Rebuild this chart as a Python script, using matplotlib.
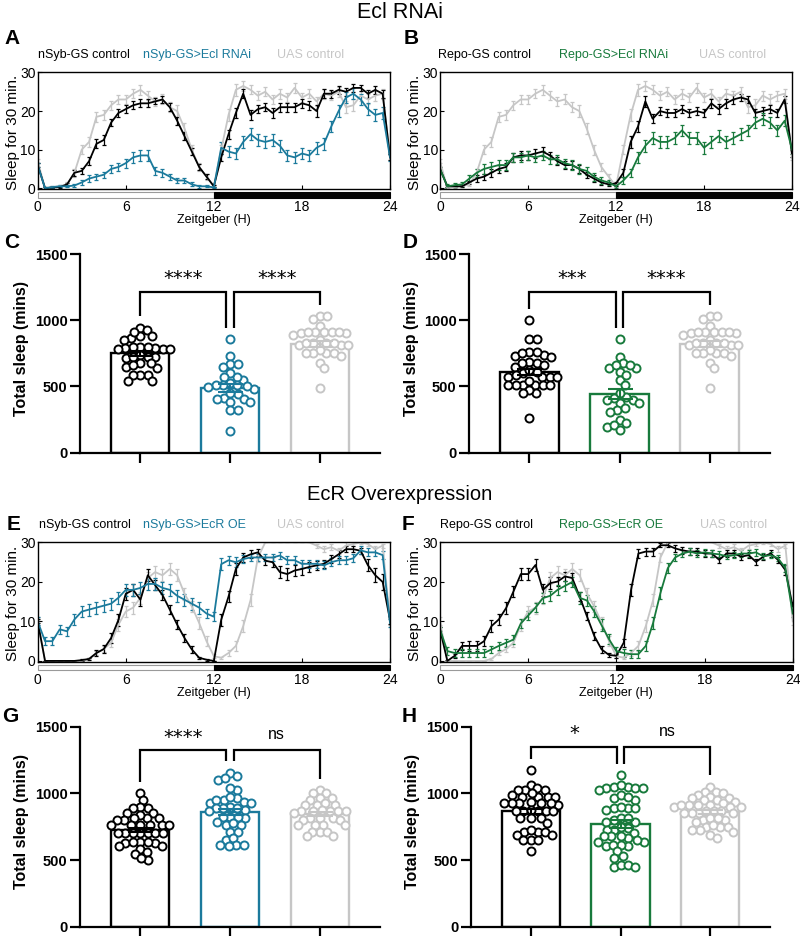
import numpy as np
import matplotlib
matplotlib.use('Agg')
import matplotlib.pyplot as plt
from matplotlib.patches import Rectangle
import matplotlib.transforms as mtransforms

plt.rcParams['font.family'] = ['Liberation Sans', 'DejaVu Sans']

# ---------------- colours ----------------
BLACK = '#000000'
BLUE = '#1b7a9c'
GREEN = '#187a3c'
GREY = '#c6c6c6'

# ---------------- line-plot data (30-min bins, ZT0..ZT24) ----------------
hours = np.arange(0, 24.01, 0.5)

uas_rnai = [7,0,0.3,0.5,1,4,10,12,18.5,19,21.5,23,23,24.5,25.5,24,22.5,23,21,20,15.5,10,5.5,3,0.5,
            10,19,25.5,26.5,25.5,24,25,23,24.5,23.5,26,23.5,24.5,22.5,24.5,24,25,21,21.5,24,23,24,24.5,8]
uas_rnai_err = [0.5,0.2,0.3,0.3,0.5,1,1.2,1.2,1.3,1.3,1.2,1.2,1.2,1.2,1.3,1.2,1.2,1.3,1.3,1.5,1.5,1.3,1,0.8,0.3,
                1.2,1.5,1.5,1.2,1.2,1.2,1.2,1.2,1.3,1.2,1.2,1.2,1.2,1.2,1.3,1.2,1.3,1.5,1.5,1.3,1.3,1.3,1.3,0.8]

a_ctrl = [6,0,0.2,0.3,1,4,4.5,7,11.5,12.5,17,19.5,20.5,21.5,22,22,22.5,23,21,17.5,13.5,9.5,5.5,3,0.5,
          8,14,19.5,24.5,19,20.5,21,19.5,21,21,21,22,21.5,20,24.5,24.5,25.5,25,26,26,24.5,25.5,24.5,8]
a_ctrl_err = [0.5,0.2,0.2,0.2,0.3,0.8,0.8,1,1.2,1.2,1,1,1,1,1,1,0.8,0.8,1,1,1,1,0.8,0.6,0.3,
              1,1.2,1.2,1.2,1.2,1,1,1.2,1.2,1.2,1.2,1.2,1.2,1.5,1.2,1,1,1,1,0.8,1,1,1,0.8]
a_rnai = [6,0,0.3,0.5,0.5,0.7,1.5,2.5,3,3.5,5,5.5,6.5,8,8.5,8.5,4.5,4,3,2,2,1,0.5,0.5,0.2,
          10.5,9.5,9,12,14,12.5,12,12.5,11,8.5,8,9,8.5,10.5,11.5,16,20,23.5,24.5,23,20.5,19,19.5,8]
a_rnai_err = [0.5,0.2,0.3,0.3,0.3,0.4,0.6,0.8,0.8,0.8,1,1,1.2,1.5,1.5,1.5,1,1,0.8,0.7,0.6,0.5,0.4,0.3,0.2,
              1.5,1.5,1.5,1.5,1.5,1.5,1.5,1.5,1.5,1.5,1.5,1.5,1.5,1.5,1.5,1.5,1.5,1.5,1.5,1.5,1.5,1.5,1.5,1]

b_ctrl = [5,0.5,0.5,0.5,1.5,2.5,3,4,5,5.5,8,8.5,8.5,9,9.5,8.5,7,6,6,5,3.5,2.5,1.5,1,1.2,
          4,12,16,22.5,18,20,19.5,19.5,20.5,19.5,20,19.5,22,20.5,22,23,23.5,23,19.5,20,20.5,19.5,23,9]
b_ctrl_err = [0.5,0.3,0.3,0.3,0.5,0.8,0.8,1,1,1,1.2,1.2,1.2,1.2,1.2,1,1,1,1,1,0.8,0.8,0.6,0.5,0.5,
              1,1.5,1.5,1.5,1.2,1,1,1,1,1,1,1,1.2,1.2,1.2,1.2,1,1,1,1,1,1,1,1]
b_rnai = [5,0.5,0.8,1,2.5,4,5,5.5,6,6,8,8,8.5,8,8.5,7.5,7.5,6.5,6,5,4.5,3,2,1.5,0.5,
          2,4,8,11,13,12,12,13,15,13,13,10.5,12,13.5,12,13,14,15,17,18,17,15,17.5,10]
b_rnai_err = [0.5,0.5,0.5,0.5,1,1,1.2,1.2,1.2,1.2,1.2,1.2,1.2,1.2,1.2,1.2,1.2,1.2,1.2,1.2,1,1,0.8,0.6,0.5,
              0.8,1,1.5,1.5,1.5,1.5,1.5,1.5,1.5,1.5,1.5,1.5,1.5,1.5,1.5,1.5,1.5,1.5,1.5,1.5,1.5,1.5,1.5,1]

uas_oe = [10,0,0,0,0,0,0,0.5,2,3,4.6,9.2,12.5,13.5,16,21,22.5,21.7,23.3,21.7,17,13.8,9.6,5,1.2,
          0.8,2,3.8,8.8,15.4,26.2,30,30,30,30,30,30,30,29.2,28.3,28.8,27.9,29.2,29.6,30,29.6,28.3,29.2,10]
uas_oe_err = [1,0,0,0,0,0,0,0.2,0.5,0.8,1,1.5,1.5,1.5,1.5,1.5,1.5,1.5,1.5,1.5,1.5,1.5,1.5,1.2,0.5,
              0.3,0.8,1.2,1.5,1.5,1.2,0,0,0,0,0,0,0,0.5,0.8,0.8,0.8,0.8,0.5,0.3,0.5,0.8,0.5,1]

e_ctrl = [10,0,0,0,0,0,0.2,0.5,2,3,5.8,10.4,17,18,15.5,21.7,19.2,16.7,13,9.2,5.8,2.9,0.8,0.3,0,
          10.4,16.3,23.3,26.2,27,27.5,25.4,25,22.5,22,22.9,23.3,23.8,24.2,24.6,25.8,27,28.3,28.3,27.9,24.2,21.7,20,10.4]
e_ctrl_err = [0.5,0,0,0,0,0,0.2,0.3,0.8,1,1.2,1.5,1.5,1.5,1.5,1.5,1.2,1.2,1.2,1.2,1,0.8,0.3,0.2,0,
              1.5,1.5,1.5,1.2,1,0.8,1,1.2,1.5,1.5,1.5,1.5,1.2,1.2,1,1,1,0.8,0.8,0.8,1.5,1.8,2,1]
e_oe = [10,5,5,8,7.5,10.5,12.5,13,13.5,14,14.5,16,18,18,18.5,19.5,19.5,18.5,18,16.5,15.5,14.5,13.5,12,11.2,
        24.5,25.5,25,25.8,26.2,26.2,26.2,26.2,26.7,25.5,25.5,24.6,24.6,24.6,24.2,25,25.5,25.5,26,28,27.5,27.5,26.8,9.6]
e_oe_err = [1,1,1,1.2,1.2,1.5,1.5,1.5,1.5,1.5,1.5,1.5,1.5,1.5,1.5,1.5,1.5,1.5,1.5,1.5,1.5,1.5,1.5,1.2,1.2,
            1.5,1.2,1.2,1,1,1,1,1,1,1,1,1,1,1,1,1,1,1,1,1,1,1,1,1]

f_ctrl = [8,0,1.3,3.8,3.8,3.8,5,8.8,10.5,13.4,17.6,22,22,24.3,18,19.7,20.1,21.4,21,16.3,11.3,6.3,2.9,1.5,1.3,
          4.6,18,27.2,27.7,27.7,29.3,29.3,28.5,28,27.7,27.7,27.2,27.2,25.6,27.2,27.2,26.4,26.8,25.1,26.4,27.2,25.6,23,13.8]
f_ctrl_err = [0.5,0.2,0.5,1,1.2,1.2,1.2,1.5,1.5,1.5,1.5,1.5,1.5,1.5,1.5,1.5,1.2,1.2,1.2,1.2,1,1,0.8,0.5,0.5,
              1,1.5,1.2,1,1,0.5,0.5,0.8,0.8,0.8,0.8,0.8,0.8,0.8,0.8,0.8,0.8,0.8,0.8,0.8,0.8,0.8,1.2,1]
f_oe = [8,2.5,2,2,2,2,2,2.9,3.8,4.6,5.4,9.5,11.5,13.5,15.9,16.5,18,19,20,16,15.3,12.5,9,5.5,2.5,
        2,1.7,1.7,3.8,9.6,17.2,23.5,26.2,27.2,27.7,27.2,27.5,27.2,27,26.5,26.8,27.2,27.2,27.5,26.5,26.8,26,23.5,12]
f_oe_err = [0.5,1,1,1,1,1,1,1,1,1,1.2,1.2,1.2,1.2,1.2,1.2,1.2,1.2,1.2,1.5,1.5,1.5,1.5,1.2,1,
            1,1,1,1.2,1.5,1.5,1.2,1,1,0.8,0.8,0.8,0.8,0.8,0.8,0.8,0.8,0.8,0.8,0.8,0.8,0.8,1,1]

# ---------------- total sleep data (mins) ----------------
c_ctrl = [944,863,851,926,881,881,914,800,783,788,795,788,783,800,783,712,720,737,725,725,
          644,642,680,675,662,584,586,584,541,541]
c_rnai = [856,730,670,667,649,549,574,599,574,529,478,503,508,508,508,498,443,415,383,408,
          448,408,383,322,322,161]
uas_c = [1032,1032,1007,959,889,914,914,901,901,914,914,914,851,813,813,826,826,826,826,813,
         750,775,750,750,750,730,680,637,486]
d_ctrl = [1002,861,861,758,730,750,737,725,758,687,675,662,675,649,574,574,574,612,599,574,
          586,624,511,511,511,511,511,511,544,448,473,448,259]
d_rnai = [858,725,675,637,637,662,612,662,549,586,511,372,398,410,423,398,448,372,322,309,
          335,247,221,196,209,171]
g_ctrl = [1002,952,890,902,890,852,852,815,840,815,802,815,802,765,765,765,765,765,765,703,
          703,703,703,703,703,703,628,640,640,628,640,583,603,603,561,548,503,516]
g_oe = [1156,1131,1101,1114,1026,1044,964,952,927,939,952,977,927,902,877,889,889,889,865,827,
        815,827,827,790,765,765,777,715,715,653,665,615,615,615,603]
g_uas = [1027,1002,1002,964,964,952,914,914,927,914,865,865,865,877,865,865,857,815,815,802,
         815,802,765,765,765,765,715,715,715,678,678]
h_ctrl = [1176,1064,1027,1027,1039,1027,989,977,977,977,1002,977,927,914,927,927,927,927,939,865,
          865,865,865,865,877,815,815,815,777,715,715,715,728,690,690,653,653,653,566]
h_oe = [1139,1051,1039,1039,1051,1064,1039,1027,952,964,989,977,889,889,902,877,889,802,815,790,
        815,790,740,728,752,728,703,640,665,678,678,678,640,653,603,603,615,615,566,516,528,453,466,466,453]
h_uas = [1051,1014,1014,989,1002,964,977,952,952,964,939,927,914,914,902,902,914,902,914,865,
         852,852,852,865,865,852,802,802,815,815,790,752,752,752,765,728,715,728,690,665]

c_means = [750, 490, 820]; c_sems = [20, 28, 22]
d_means = [610, 445, 820]; d_sems = [25, 38, 22]
g_means = [725, 862, 845]; g_sems = [17, 25, 15]
h_means = [865, 772, 862]; h_sems = [20, 27, 14]

c_sig = ['****', '****']
d_sig = ['***', '****']
g_sig = ['****', 'ns']
h_sig = ['*', 'ns']

for arr in [uas_rnai, uas_rnai_err, a_ctrl, a_ctrl_err, a_rnai, a_rnai_err, b_ctrl, b_ctrl_err,
            b_rnai, b_rnai_err, uas_oe, uas_oe_err, e_ctrl, e_ctrl_err, e_oe, e_oe_err,
            f_ctrl, f_ctrl_err, f_oe, f_oe_err]:
    assert len(arr) == len(hours), len(arr)

# ---------------- figure ----------------
W, H = 800, 936
fig = plt.figure(figsize=(W / 100, H / 100), dpi=100)


def box(x0, y0, x1, y1):
    return [x0 / W, 1 - y1 / H, (x1 - x0) / W, (y1 - y0) / H]


def ftext(x, y, s, **kw):
    fig.text(x / W, 1 - y / H, s, **kw)


def line_panel(bx, series, legend, letter):
    ax = fig.add_axes(box(*bx))
    for vals, err, col in series:
        ax.errorbar(hours, vals, yerr=err, color=col, lw=1.3, elinewidth=0.9,
                    capsize=1.6, capthick=0.9, clip_on=True)
    ax.set_xlim(0, 24)
    ax.set_ylim(-0.2, 30.2)
    ax.set_xticks([0, 6, 12, 18, 24])
    ax.set_yticks([0, 10, 20, 30])
    ax.tick_params(direction='in', length=3, width=0.8, labelsize=10, pad=1.5)
    ax.tick_params(axis='x', pad=8)
    for s in ax.spines.values():
        s.set_linewidth(1.0)
    trans = mtransforms.blended_transform_factory(ax.transData, ax.transAxes)
    hpx = bx[3] - bx[1]
    y0 = -8.5 / hpx
    hh = 5.5 / hpx
    ax.add_patch(Rectangle((0, y0), 12, hh, transform=trans, facecolor='white',
                           edgecolor='#9a9a9a', lw=0.8, clip_on=False))
    ax.add_patch(Rectangle((12, y0), 12, hh, transform=trans, facecolor='black',
                           edgecolor='black', lw=0.8, clip_on=False))
    # legend texts
    for (fx, txt, col) in legend:
        ax.text(fx, 1 + 17 / hpx, txt, color=col, fontsize=9, transform=ax.transAxes,
                ha='left', va='center')
    cx = (bx[0] + bx[2]) / 2
    ftext(cx, bx[3] + 31.5, 'Zeitgeber (H)', fontsize=9, ha='center', va='center')
    ftext(bx[0] - 25, (bx[1] + bx[3]) / 2 + 2, 'Sleep for 30 min.', fontsize=11,
          rotation=90, ha='center', va='center')
    ftext(letter[1], letter[2], letter[0], fontsize=15, fontweight='bold',
          ha='center', va='center')
    return ax


def swarm(vals, d_px, ppx, ppy):
    vals = np.asarray(vals, float)
    order = np.argsort(-vals, kind='stable')
    placed = []
    xs = np.zeros(len(vals))
    for i in order:
        y = vals[i] * ppy
        chosen = 0.0
        for k in range(0, 400):
            found = False
            for sgn in ([0] if k == 0 else [1, -1]):
                x = sgn * k * 0.5
                ok = True
                for (px, py) in placed:
                    if (x - px) ** 2 + (y - py) ** 2 < d_px ** 2:
                        ok = False
                        break
                if ok:
                    chosen = x
                    found = True
                    break
            if found:
                break
        placed.append((chosen, y))
        xs[i] = chosen / ppx
    return xs


def bar_panel(bx, groups, means, sems, colors, sig, top, letter):
    ax = fig.add_axes(box(*bx))
    xl = (-0.667, 2.667)
    ax.set_xlim(*xl)
    ax.set_ylim(0, 1500)
    ppx = (bx[2] - bx[0]) / (xl[1] - xl[0])
    ppy = (bx[3] - bx[1]) / 1500.0
    for i, (vals, m, se, c) in enumerate(zip(groups, means, sems, colors)):
        ax.bar(i, m, width=0.65, facecolor='white', edgecolor=c, linewidth=1.7, zorder=1)
        xs = swarm(vals, 7.2, ppx, ppy)
        ax.plot(i + xs, vals, 'o', mfc='white', mec=c, ms=5.8, mew=1.4, zorder=3,
                linestyle='none', clip_on=False)
        ax.errorbar(i, m, yerr=se, color=c, capsize=9, elinewidth=1.5, capthick=1.5,
                    zorder=4)
    # brackets
    mx = [max(g) for g in groups]
    segs = [(0, 0.96, mx[0] + 85, mx[1] + 85, sig[0]),
            (1.04, 2, mx[1] + 85, mx[2] + 85, sig[1])]
    for xa, xb, ya, yb, s in segs:
        ax.plot([xa, xa, xb, xb], [ya, top, top, yb], color='black', lw=1.6,
                clip_on=False, solid_capstyle='butt', solid_joinstyle='miter')
        if s == 'ns':
            ax.text((xa + xb) / 2, top + 60, s, ha='center', va='bottom', fontsize=11.5,
                    clip_on=False)
        else:
            ax.text((xa + xb) / 2, top + 25, s, ha='center', va='bottom', fontsize=14,
                    family='DejaVu Sans', clip_on=False)
    ax.spines['top'].set_visible(False)
    ax.spines['right'].set_visible(False)
    ax.spines['left'].set_linewidth(1.6)
    ax.spines['bottom'].set_linewidth(1.6)
    ax.set_yticks([0, 500, 1000, 1500])
    ax.set_xticks([0, 1, 2])
    ax.set_xticklabels([])
    ax.tick_params(axis='y', length=7, width=1.6, labelsize=10.5, pad=2)
    ax.tick_params(axis='x', length=7, width=1.6)
    for lab in ax.get_yticklabels():
        lab.set_fontweight('bold')
    ftext(bx[0] - 58, (bx[1] + bx[3]) / 2 - 5, 'Total sleep (mins)', fontsize=11.5,
          fontweight='bold', rotation=90, ha='center', va='center')
    ftext(letter[1], letter[2], letter[0], fontsize=15, fontweight='bold',
          ha='center', va='center')
    return ax


# titles
ftext(400, 12, 'Ecl RNAi', fontsize=15.5, ha='center', va='center')
ftext(400, 494, 'EcR Overexpression', fontsize=14.5, ha='center', va='center')

# A
line_panel((37.7, 71.7, 390, 189),
           [(uas_rnai, uas_rnai_err, GREY), (a_ctrl, a_ctrl_err, BLACK), (a_rnai, a_rnai_err, BLUE)],
           [(0.0, 'nSyb-GS control', BLACK), (0.299, 'nSyb-GS>Ecl RNAi', BLUE),
            (0.679, 'UAS control', GREY)],
           ('A', 12, 39))
# B
line_panel((440, 71.7, 792, 189),
           [(uas_rnai, uas_rnai_err, GREY), (b_ctrl, b_ctrl_err, BLACK), (b_rnai, b_rnai_err, GREEN)],
           [(-0.005, 'Repo-GS control', BLACK), (0.338, 'Repo-GS>Ecl RNAi', GREEN),
            (0.736, 'UAS control', GREY)],
           ('B', 411, 39))
# E
line_panel((37.7, 541.7, 390, 661.7),
           [(uas_oe, uas_oe_err, GREY), (e_ctrl, e_ctrl_err, BLACK), (e_oe, e_oe_err, BLUE)],
           [(0.005, 'nSyb-GS control', BLACK), (0.299, 'nSyb-GS>EcR OE', BLUE),
            (0.679, 'UAS control', GREY)],
           ('E', 14, 525))
# F
line_panel((440, 541.7, 792.7, 661.7),
           [(uas_oe, uas_oe_err, GREY), (f_ctrl, f_ctrl_err, BLACK), (f_oe, f_oe_err, GREEN)],
           [(0.0, 'Repo-GS control', BLACK), (0.338, 'Repo-GS>EcR OE', GREEN),
            (0.736, 'UAS control', GREY)],
           ('F', 408, 525))

# C, D, G, H
bar_panel((80, 254, 380, 452.7), [c_ctrl, c_rnai, uas_c], c_means, c_sems,
          [BLACK, BLUE, GREY], c_sig, 1215, ('C', 12, 242))
bar_panel((469, 254, 770, 452.7), [d_ctrl, d_rnai, uas_c], d_means, d_sems,
          [BLACK, GREEN, GREY], d_sig, 1215, ('D', 410, 242))
bar_panel((80, 726.7, 380, 927), [g_ctrl, g_oe, g_uas], g_means, g_sems,
          [BLACK, BLUE, GREY], g_sig, 1325, ('G', 10, 716))
bar_panel((471, 726.7, 770, 927), [h_ctrl, h_oe, h_uas], h_means, h_sems,
          [BLACK, GREEN, GREY], h_sig, 1350, ('H', 409, 716))

fig.savefig('out.png', dpi=100)
